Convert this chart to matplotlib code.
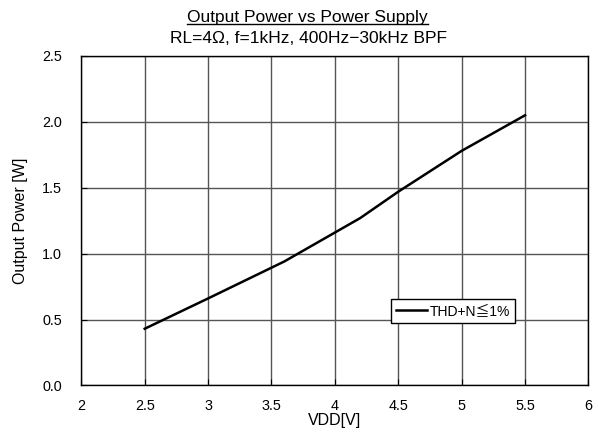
import matplotlib
matplotlib.use('Agg')
import matplotlib.pyplot as plt
from matplotlib.lines import Line2D

plt.rcParams['font.family'] = ['Liberation Sans', 'Noto Sans CJK JP', 'DejaVu Sans']

# data
vdd = [2.5, 3.0, 3.6, 4.2, 4.5, 5.0, 5.5]
pout = [0.43, 0.66, 0.94, 1.27, 1.47, 1.78, 2.05]
xticks = [2, 2.5, 3, 3.5, 4, 4.5, 5, 5.5, 6]
xticklabels = ['2', '2.5', '3', '3.5', '4', '4.5', '5', '5.5', '6']
yticks = [0.0, 0.5, 1.0, 1.5, 2.0, 2.5]

fig = plt.figure(figsize=(5.98, 4.34), dpi=100)
ax = fig.add_axes([0.136, 0.112, 0.848, 0.759])

ax.plot(vdd, pout, color='black', lw=1.8, label='THD+N≦1%')
ax.set_xlim(2, 6)
ax.set_ylim(0, 2.5)
ax.set_xticks(xticks)
ax.set_xticklabels(xticklabels)
ax.set_yticks(yticks)
ax.set_yticklabels(['%.1f' % v for v in yticks])
ax.grid(True, color='#555555', lw=1.0)
ax.tick_params(direction='in', length=4, labelsize=10.4, color='black')
ax.tick_params(axis='x', pad=10)
ax.tick_params(axis='y', pad=14)
for s in ax.spines.values():
    s.set_color('black')
    s.set_linewidth(1.0)

ax.set_xlabel('VDD[V]', fontsize=11.5, labelpad=0)
ax.set_ylabel('Output Power [W]', fontsize=11.5, labelpad=10)

leg = ax.legend(loc='center', bbox_to_anchor=(0.733, 0.226), fancybox=False,
                edgecolor='black', framealpha=1, fontsize=10, handlelength=2.2,
                borderpad=0.35, handletextpad=0.2, borderaxespad=0)
leg.get_frame().set_linewidth(1.0)

t1 = fig.text(0.514, 0.950, 'Output Power vs Power Supply', ha='center', va='baseline', fontsize=12.5)
fig.text(0.516, 0.900, 'RL=4Ω, f=1kHz, 400Hz−30kHz BPF', ha='center', va='baseline', fontsize=12.5)

# underline the first title line
fig.canvas.draw()
bb = t1.get_window_extent().transformed(fig.transFigure.inverted())
uy = 1 - 24.0 / 434
fig.add_artist(Line2D([bb.x0, bb.x1], [uy, uy], color='black', lw=1.0,
                      transform=fig.transFigure))

fig.savefig('out.png', dpi=100)
